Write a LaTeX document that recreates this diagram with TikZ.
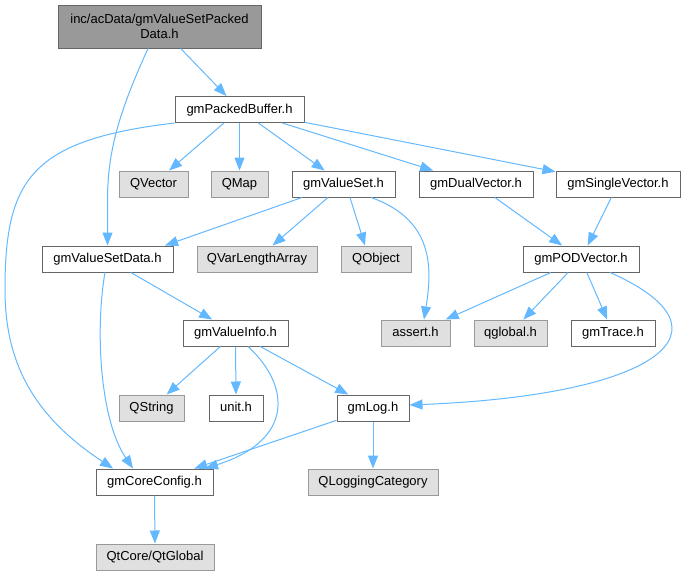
\documentclass[tikz,border=0pt]{standalone}
\usepackage{fontspec}
\setmainfont{Liberation Sans}
\usetikzlibrary{arrows.meta}

\definecolor{edgeblue}{HTML}{63B8FF}
\definecolor{boxline}{HTML}{666666}
\definecolor{extfill}{HTML}{E0E0E0}
\definecolor{extline}{HTML}{999999}
\definecolor{topfill}{HTML}{999999}

\begin{document}
\begin{tikzpicture}[x=1pt, y=-1pt,
  base/.style={line width=1pt, inner sep=0pt, minimum height=26pt, font=\fontsize{13}{15.5}\selectfont},
  file/.style={base, draw=boxline, fill=white, text height=9.5pt, text depth=2.5pt},
  ext/.style={file, draw=extline, fill=extfill},
  main/.style={base, draw=boxline, fill=topfill, align=center},
  dep/.style={draw=edgeblue, line width=1pt, -{Triangle[length=13pt,width=10pt]}}]
  \useasboundingbox (0,0) rectangle (686,576);

  % Header file
  \node[main, minimum width=203pt, minimum height=43pt] (top) at (159.5,26.5) {inc/acData/gmValueSetPacked\\Data.h};

  % Second row
  \node[file, minimum width=129pt] (pb) at (239.5,109.5) {gmPackedBuffer.h};

  % Third row
  \node[ext, minimum width=69pt] (qv) at (153.5,184) {QVector};
  \node[ext, minimum width=57pt] (qm) at (239.5,184) {QMap};
  \node[file, minimum width=103pt] (vs) at (343.5,184) {gmValueSet.h};
  \node[file, minimum width=114pt] (dv) at (476,184) {gmDualVector.h};
  \node[file, minimum width=124pt] (sv) at (618,184) {gmSingleVector.h};

  % Fourth row
  \node[file, minimum width=131pt] (vsd) at (107.5,259) {gmValueSetData.h};
  \node[ext, minimum width=120pt] (qvla) at (257,259) {QVarLengthArray};
  \node[ext, minimum width=70pt] (qo) at (376,259) {QObject};
  \node[file, minimum width=116pt] (pod) at (581,259) {gmPODVector.h};

  % Fifth row
  \node[file, minimum width=105pt] (vi) at (235.5,333) {gmValueInfo.h};
  \node[ext, minimum width=69pt] (as) at (415.5,333) {assert.h};
  \node[ext, minimum width=73pt] (qg) at (510.5,333) {qglobal.h};
  \node[file, minimum width=84pt] (tr) at (613,333) {gmTrace.h};

  % Sixth row
  \node[ext, minimum width=65pt] (qs) at (151.5,408) {QString};
  \node[file, minimum width=54pt] (un) at (236,408) {unit.h};
  \node[file, minimum width=72pt] (gl) at (373,408) {gmLog.h};

  % Bottom rows
  \node[file, minimum width=117pt] (cc) at (154.5,482) {gmCoreConfig.h};
  \node[ext, minimum width=130pt] (qlc) at (373,482) {QLoggingCategory};
  \node[ext, minimum width=118pt] (qtg) at (155,557) {QtCore/QtGlobal};

  % Include edges
  \draw[dep] (top) -- (pb);
  \draw[dep] ([xshift=-11.5pt]top.south) .. controls (120,110) and (107.5,150) .. (107.5,200) -- (vsd);
  \draw[dep] (pb.south west) .. controls (30,140) and (5,180) .. (5,290) .. controls (5,370) and (40,420) .. ([xshift=-41.5pt]cc.north);
  \draw[dep] (pb) -- (qv);
  \draw[dep] (pb) -- (qm);
  \draw[dep] (pb) -- (vs);
  \draw[dep] (pb) -- (dv);
  \draw[dep] (pb) -- (sv);

  \draw[dep] ([xshift=-41.5pt]vs.south) -- ([xshift=57.5pt]vsd.north);
  \draw[dep] (vs) -- (qvla);
  \draw[dep] ([xshift=6.5pt]vs.south) -- ([xshift=-11pt]qo.north);
  \draw[dep] ([xshift=27.5pt]vs.south) .. controls (435,220) and (432,270) .. ([xshift=8.5pt]as.north);

  \draw[dep] (dv) -- (pod);
  \draw[dep] (sv) -- (pod);
  \draw[dep] (pod) -- (as);
  \draw[dep] (pod) -- (qg);
  \draw[dep] (pod) -- (tr);
  \draw[dep] ([xshift=29pt]pod.south) .. controls (740,330) and (660,395) .. ([yshift=3pt]gl.east);

  \draw[dep] (vsd) -- (vi);
  \draw[dep] ([xshift=-2.5pt]vsd.south) .. controls (95,330) and (100,420) .. ([xshift=-21.5pt]cc.north);

  \draw[dep] (vi) -- (qs);
  \draw[dep] (vi) -- (un);
  \draw[dep] (vi) -- (gl);
  \draw[dep] ([xshift=12.5pt]vi.south) .. controls (290,385) and (295,440) .. ([xshift=50.5pt]cc.north);

  \draw[dep] (gl) -- (cc);
  \draw[dep] (gl) -- (qlc);
  \draw[dep] (cc) -- (qtg);
\end{tikzpicture}
\end{document}
